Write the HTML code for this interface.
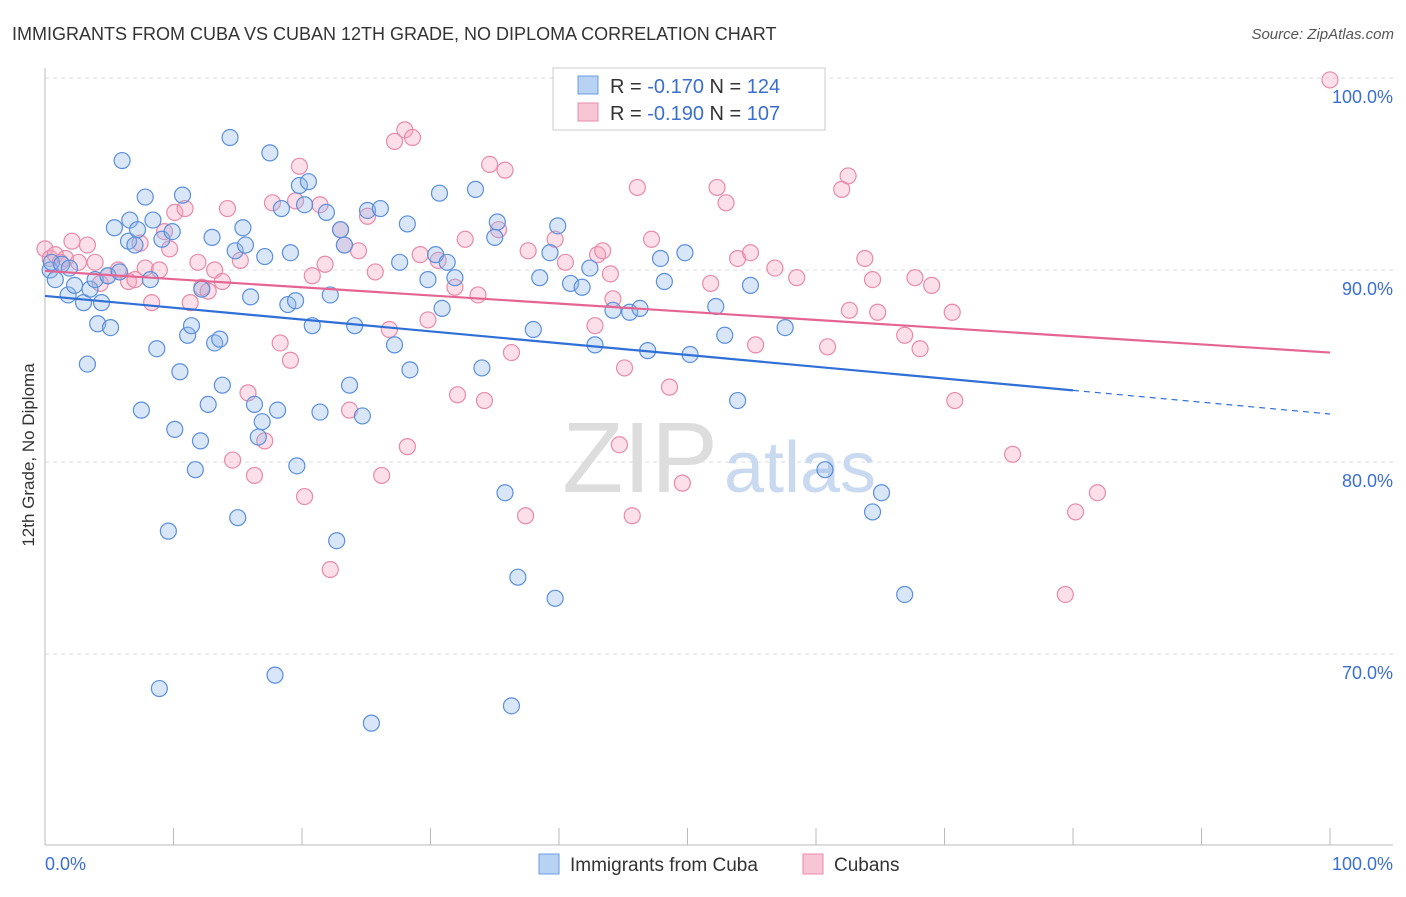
<!DOCTYPE html>
<html><head><meta charset="utf-8"><style>
body{margin:0;background:#fff;font-family:"Liberation Sans",sans-serif}
svg text{font-family:"Liberation Sans",sans-serif}
</style></head><body>
<svg id="chart" width="1406" height="892" xmlns="http://www.w3.org/2000/svg">
<text x="12" y="40" font-size="18" fill="#333">IMMIGRANTS FROM CUBA VS CUBAN 12TH GRADE, NO DIPLOMA CORRELATION CHART</text>
<text x="1394" y="39" font-size="15" fill="#555" text-anchor="end" font-style="italic">Source: ZipAtlas.com</text>
<g id="grid"></g>
<text x="640" y="492" font-size="100" fill="#ddd" font-family="Liberation Serif" text-anchor="middle">ZIP</text>
<text x="800" y="492" font-size="72" fill="#c9d9ef" text-anchor="middle">atlas</text>
<g id="pts"></g>
<g id="lines"></g>
<text transform="translate(34,455) rotate(-90)" font-size="17" fill="#333" text-anchor="middle">12th Grade, No Diploma</text>
<g>
<rect x="553" y="68" width="272" height="62" fill="#fff" stroke="#ccc"/>
<rect x="578" y="76" width="20" height="18" fill="#b8d2f3" stroke="#6a9de0"/>
<rect x="578" y="103" width="20" height="18" fill="#f8c5d5" stroke="#e88aaa"/>
<text x="610" y="93" font-size="20" fill="#333">R = <tspan fill="#3a6fd0">-0.170</tspan>   N = <tspan fill="#3a6fd0">124</tspan></text>
<text x="610" y="120" font-size="20" fill="#333">R = <tspan fill="#3a6fd0">-0.190</tspan>   N = <tspan fill="#3a6fd0">107</tspan></text>
</g>
<g>
<rect x="539" y="854" width="20" height="20" fill="#b8d2f3" stroke="#6a9de0"/>
<text x="570" y="871" font-size="19" fill="#333">Immigrants from Cuba</text>
<rect x="803" y="854" width="20" height="20" fill="#f8c5d5" stroke="#e88aaa"/>
<text x="834" y="871" font-size="19" fill="#333">Cubans</text>
</g>
</svg>
<script>
const xTickLabels=["0.0%","100.0%"];
const yTicks=[100,90,80,70];
const yTickLabels=["100.0%","90.0%","80.0%","70.0%"];
const blueX=[0.4,0.5,0.8,1.3,1.8,1.9,2.3,3.0,3.5,3.9,4.1,4.4,3.3,5.1,4.9,5.4,5.8,6.0,6.5,6.6,7.0,7.2,7.8,8.2,8.4,7.5,8.7,9.1,9.6,9.9,10.1,10.5,10.7,11.1,11.4,11.7,12.1,12.2,12.7,13.0,13.2,13.6,13.8,14.4,14.8,15.0,15.4,15.6,16.0,16.3,16.6,16.9,17.1,17.5,18.1,18.4,18.9,19.1,19.5,19.6,19.8,20.2,20.5,20.8,21.4,21.9,22.2,22.7,23.0,23.3,23.7,24.1,24.7,25.1,25.4,26.1,27.2,27.6,28.2,28.4,29.8,30.4,30.7,30.9,31.3,31.9,33.5,34.0,35.0,35.2,35.8,36.3,36.8,38.0,38.5,39.3,39.7,39.9,40.9,41.8,42.4,42.8,44.2,45.5,46.3,46.9,47.9,48.2,49.8,50.2,52.2,52.9,53.9,54.9,57.6,60.7,64.4,65.1,66.9,8.9,17.9,57.6];
const blueY=[90.0,90.4,89.5,90.3,88.7,90.1,89.2,88.3,89.0,89.5,87.2,88.3,85.1,87.0,89.7,92.2,89.9,95.7,91.5,92.6,91.3,92.1,93.8,89.5,92.6,82.7,85.9,91.6,76.4,92.0,81.7,84.7,93.9,86.6,87.1,79.6,81.1,89.0,83.0,91.7,86.2,86.4,84.0,96.9,91.0,77.1,92.2,91.3,88.6,83.0,81.3,82.1,90.7,96.1,82.7,93.2,88.2,90.9,88.4,79.8,94.4,93.4,94.6,87.1,82.6,93.0,88.7,75.9,92.1,91.3,84.0,87.1,82.4,93.1,66.4,93.2,86.1,90.4,92.4,84.8,89.5,90.8,94.0,88.0,90.4,89.6,94.2,84.9,91.7,92.5,78.4,67.3,74.0,86.9,89.6,90.9,72.9,92.3,89.3,89.1,90.1,86.1,87.9,87.8,88.0,85.8,90.6,89.4,90.9,85.6,88.1,86.6,83.2,89.2,87.0,79.6,77.4,78.4,73.1,68.2,68.9,99.7];
const pinkX=[0.0,0.4,0.8,1.2,1.6,2.1,2.6,3.3,3.9,4.3,4.9,5.7,6.5,7.0,7.4,7.8,8.3,8.9,9.3,9.7,10.1,10.9,11.3,11.9,12.2,12.7,13.2,13.8,14.2,14.6,15.2,15.8,16.3,17.1,17.7,18.3,19.1,19.5,19.8,20.2,20.8,21.4,21.8,22.2,23.0,23.3,23.7,24.4,25.1,25.7,26.2,26.8,27.2,28.0,28.2,28.6,29.2,29.8,30.6,31.9,32.1,32.7,33.7,34.2,34.6,35.3,35.8,36.3,37.4,37.6,39.7,40.5,42.8,43.0,43.4,44.0,44.2,44.7,45.1,45.7,46.1,47.2,48.6,49.6,51.8,52.3,53.0,53.9,54.9,55.3,56.8,58.5,60.9,62.0,62.5,62.6,63.8,64.4,64.8,66.9,67.7,68.1,69.0,70.6,70.8,75.3,79.4,80.2,81.9,100.0];
const pinkY=[91.1,90.6,90.8,90.4,90.6,91.5,90.4,91.3,90.4,89.3,89.7,90.0,89.4,89.5,91.4,90.1,88.3,90.0,92.0,91.1,93.0,93.2,88.3,90.4,89.1,88.9,90.0,89.4,93.2,80.1,90.5,83.6,79.3,81.1,93.5,86.2,85.3,93.6,95.4,78.2,89.7,93.4,90.3,74.4,92.1,91.3,82.7,91.0,92.8,89.9,79.3,86.9,96.7,97.3,80.8,96.9,90.8,87.4,90.5,89.1,83.5,91.6,88.7,83.2,95.5,92.1,95.2,85.7,77.2,91.0,91.6,90.4,87.1,90.8,91.0,89.8,88.5,80.9,84.9,77.2,94.3,91.6,83.9,78.9,89.3,94.3,93.5,90.6,90.9,86.1,90.1,89.6,86.0,94.2,94.9,87.9,90.6,89.5,87.8,86.6,89.6,85.9,89.2,87.8,83.2,80.4,73.1,77.4,78.4,99.9];
const blueTrend=[88.65,82.5]; // value at x=0 and x=100
const pinkTrend=[89.95,85.7];
const NS="http://www.w3.org/2000/svg";
const X=v=>45+v*12.85, Y=v=>78+(100-v)*19.2;
function mk(t,a,p){const e=document.createElementNS(NS,t);for(const k in a)e.setAttribute(k,a[k]);p.appendChild(e);return e;}
const grid=document.getElementById('grid');
yTicks.forEach((t,i)=>{
 const l=mk('line',{x1:45,x2:1393,y1:Y(t),y2:Y(t),stroke:'#ddd','stroke-dasharray':'4,4'},grid);
 
 
 const tx=mk('text',{x:1393,y:Y(t)+25,'font-size':18,fill:'#3a6fd0','text-anchor':'end'},grid);
 tx.textContent=yTickLabels[i];
 
 
});
const ax=mk('line',{x1:45,x2:45,y1:68,y2:845,stroke:'#bbb'},grid);


const bx=mk('line',{x1:45,x2:1393,y1:845,y2:845,stroke:'#bbb'},grid);


for(let i=1;i<=10;i++){
 const t=mk('line',{x1:X(i*10),x2:X(i*10),y1:828,y2:845,stroke:'#bbb'},grid);
 
 
}
[[0,'start'],[100,'end']].forEach((p,i)=>{
 const t=mk('text',{x:i?1393:45,y:870,'font-size':18,fill:'#3a6fd0','text-anchor':p[1]},grid);
 t.textContent=xTickLabels[i];
 
 
});
const pts=document.getElementById('pts');
function draw(xs,ys,fill,stroke,name){xs.forEach((x,i)=>{
 const c=mk('circle',{cx:X(x),cy:Y(ys[i]),r:8,fill:fill,'fill-opacity':0.35,stroke:stroke,'stroke-width':1.2},pts);
 
 
});}
draw(pinkX,pinkY,'#f5a3bd','#e88aaa','cubans-point');
draw(blueX,blueY,'#8fb6ea','#5a8fdc','cuba-immigrants-point');
const lines=document.getElementById('lines');
const tb=v=>blueTrend[0]+(blueTrend[1]-blueTrend[0])*v/100;
const tp=v=>pinkTrend[0]+(pinkTrend[1]-pinkTrend[0])*v/100;
let l1=mk('line',{x1:X(0),y1:Y(tb(0)),x2:X(80),y2:Y(tb(80)),stroke:'#2f6fd6','stroke-width':2.2},lines);


let l2=mk('line',{x1:X(80),y1:Y(tb(80)),x2:X(100),y2:Y(tb(100)),stroke:'#2f6fd6','stroke-width':1.2,'stroke-dasharray':'6,5'},lines);


let l3=mk('line',{x1:X(0),y1:Y(tp(0)),x2:X(100),y2:Y(tp(100)),stroke:'#e56592','stroke-width':2.2},lines);


</script>
</body></html>
